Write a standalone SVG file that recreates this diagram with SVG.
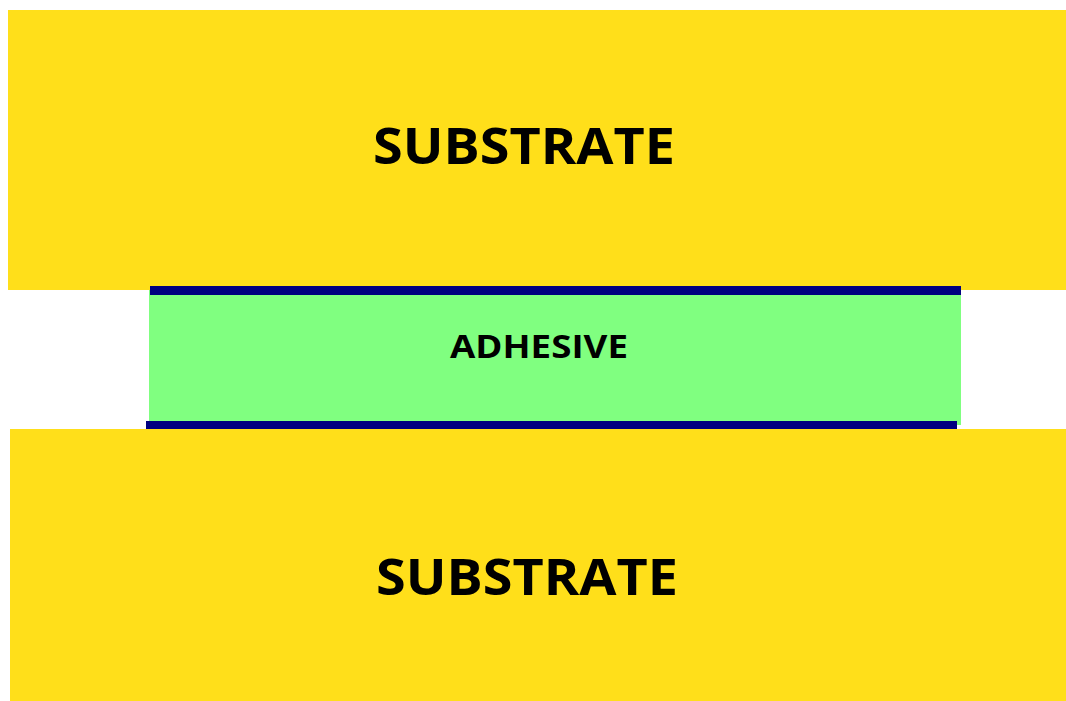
<svg xmlns="http://www.w3.org/2000/svg" width="1066" height="701" viewBox="0 0 1066 701">
  <style>
    .substrate { fill: #FFDF1A; }
    .adhesive { fill: #80FF80; }
    .interface { fill: #000080; }
    .label { font-family: "Open Sans", "Noto Sans", sans-serif; font-weight: bold; fill: #000000; }
  </style>
  <rect width="1066" height="701" fill="#FFFFFF"/>

  <!-- upper substrate -->
  <g id="substrate-top">
    <rect class="substrate" x="8" y="10" width="1058" height="280"/>
    <text class="label" x="373" y="164" font-size="51" textLength="302" lengthAdjust="spacingAndGlyphs">SUBSTRATE</text>
  </g>

  <!-- adhesive layer with its two bond lines -->
  <g id="adhesive">
    <rect class="adhesive" x="149" y="290" width="812" height="135"/>
    <rect class="interface" x="150" y="286" width="405" height="9"/>
    <rect class="interface" x="555" y="286" width="406" height="9"/>
    <rect class="interface" x="146" y="421" width="270" height="9"/>
    <rect class="interface" x="416" y="421" width="541" height="9"/>
    <text class="label" x="450" y="358" font-size="33" textLength="178" lengthAdjust="spacingAndGlyphs">ADHESIVE</text>
  </g>

  <!-- lower substrate -->
  <g id="substrate-bottom">
    <rect class="substrate" x="10" y="429" width="1056" height="272"/>
    <text class="label" x="376" y="595" font-size="51" textLength="302" lengthAdjust="spacingAndGlyphs">SUBSTRATE</text>
  </g>
</svg>
